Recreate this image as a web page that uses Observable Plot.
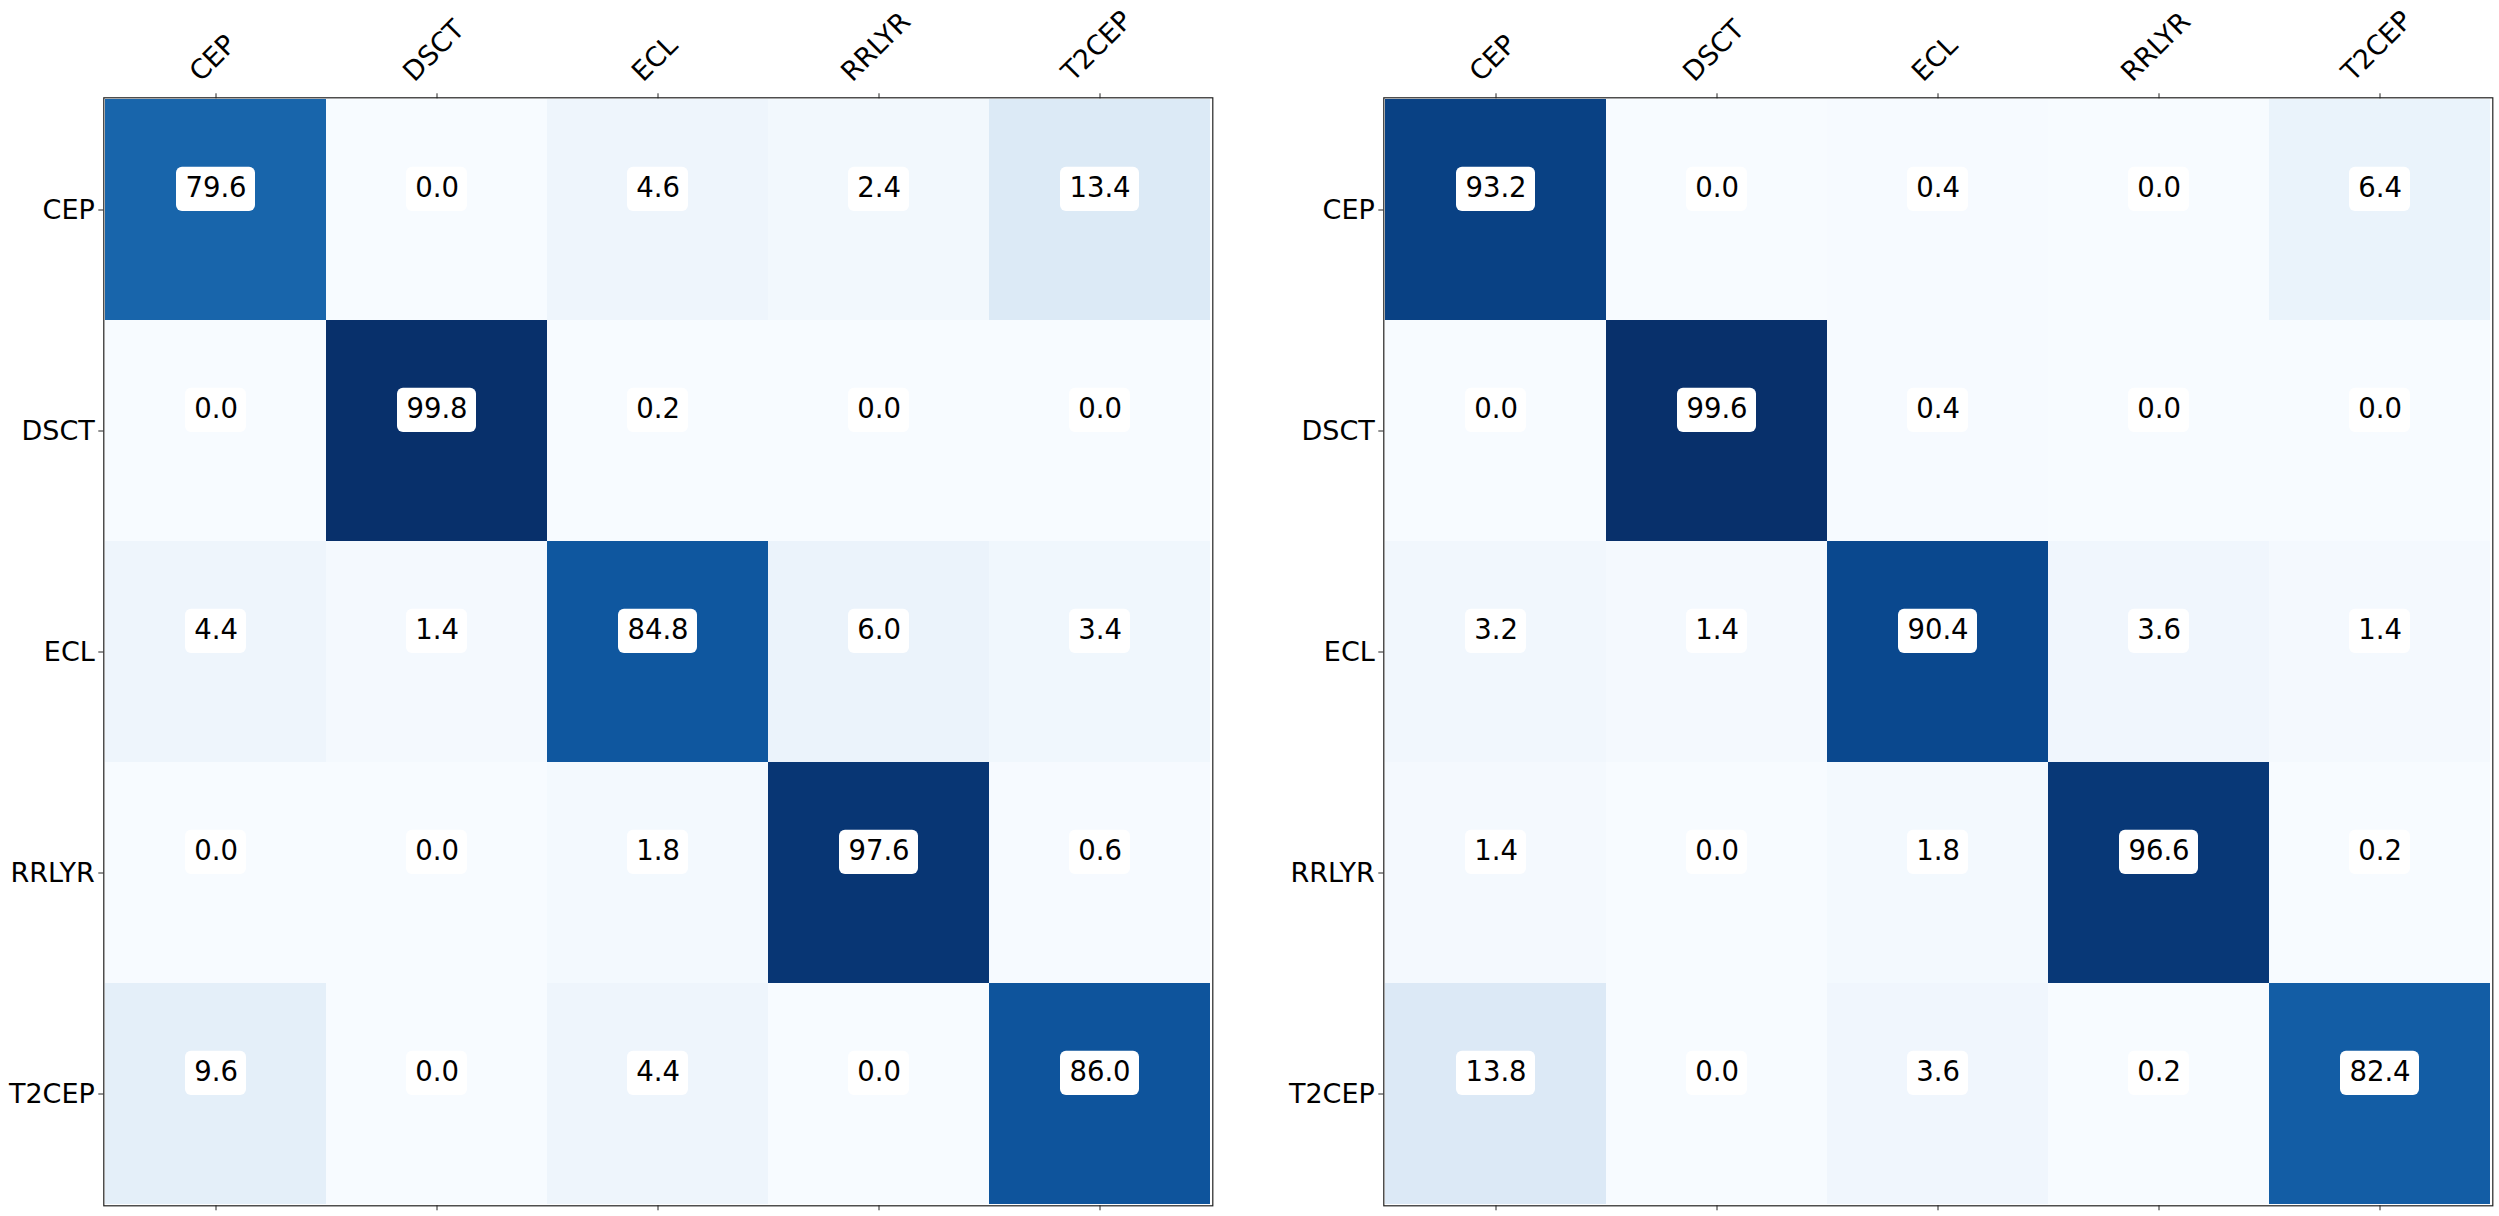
<!DOCTYPE html>
<html><head><meta charset="utf-8">
<script src="https://cdn.jsdelivr.net/npm/d3@7"></script>
<script src="https://cdn.jsdelivr.net/npm/@observablehq/plot@0.6"></script>
<style>
html,body{margin:0;padding:0;background:#fff;overflow:hidden}
#row{display:flex;flex-direction:row;align-items:flex-start}
#row svg{display:block;flex:none;overflow:visible}
#row svg [aria-label="y-axis tick label"] text,
#row svg [aria-label="y-axis tick label"]{font-size:27px !important;font-family:"DejaVu Sans" !important}
</style></head><body><div id="row"></div>
<script>
const classes = ["CEP", "DSCT", "ECL", "RRLYR", "T2CEP"];

// Left confusion matrix (rows = actual, columns = predicted), percent
const leftMatrix = [
  [79.6, 0.0, 4.6, 2.4, 13.4],
  [0.0, 99.8, 0.2, 0.0, 0.0],
  [4.4, 1.4, 84.8, 6.0, 3.4],
  [0.0, 0.0, 1.8, 97.6, 0.6],
  [9.6, 0.0, 4.4, 0.0, 86.0]
];

// Right confusion matrix
const rightMatrix = [
  [93.2, 0.0, 0.4, 0.0, 6.4],
  [0.0, 99.6, 0.4, 0.0, 0.0],
  [3.2, 1.4, 90.4, 3.6, 1.4],
  [1.4, 0.0, 1.8, 96.6, 0.2],
  [13.8, 0.0, 3.6, 0.2, 82.4]
];

const ctx = document.createElement("canvas").getContext("2d");
ctx.font = "27px 'DejaVu Sans'";
const lineH = 27 * 1.164;

// rotated (45°) tick labels, horizontally centred on the tick, bbox bottom above the tick
function topLabel(c) {
  const L = ctx.measureText(c).width;
  return Plot.text([c], {
    x: d => d, frameAnchor: "top", rotate: -45, textAnchor: "middle", lineAnchor: "middle",
    fontSize: 27, fill: "black", dx: -3, dy: -(10 + (L + lineH) / (2 * Math.SQRT2))
  });
}

function panel(matrix, {width, marginLeft, marginRight}) {
  const data = [];
  matrix.forEach((row, i) => row.forEach((v, j) => data.push({
    actual: classes[i], predicted: classes[j], value: v, label: v.toFixed(1)
  })));
  const vmin = d3.min(data, d => d.value), vmax = d3.max(data, d => d.value);
  const short = data.filter(d => d.label.length <= 3);
  const long = data.filter(d => d.label.length > 3);
  const boxV = {insetTop: 67.7, insetBottom: 108.9, rx: 6, fill: "white"};
  return Plot.plot({
    width, height: 1216,
    marginTop: 97.3, marginBottom: 10.7, marginLeft, marginRight,
    style: {fontFamily: "DejaVu Sans", fontSize: "27px", color: "#000", background: "#fff", overflow: "visible"},
    x: {type: "band", domain: classes, padding: 0, label: null},
    y: {type: "band", domain: classes, padding: 0, label: null},
    color: {type: "linear", scheme: "blues", domain: [vmin, vmax]},
    marks: [
      Plot.cell(data, {x: "predicted", y: "actual", fill: "value"}),
      Plot.cell(short, {x: "predicted", y: "actual", insetLeft: 80, insetRight: 80, ...boxV}),
      Plot.cell(long, {x: "predicted", y: "actual", insetLeft: 71, insetRight: 71, ...boxV}),
      Plot.text(data, {x: "predicted", y: "actual", text: "label", dy: -22, fontSize: 27.5, fill: "black"}),
      Plot.frame({stroke: "#222", strokeWidth: 1.2}),
      Plot.axisX({anchor: "top", tickSize: 5, tickFormat: () => "", label: null, stroke: "#222"}),
      ...classes.map(topLabel),
      Plot.axisX({anchor: "bottom", tickSize: 5, tickFormat: () => "", label: null, stroke: "#222"}),
      Plot.axisY({anchor: "left", tickSize: 5, tickPadding: 4, fontSize: 27, label: null, stroke: "#222", fill: "black"})
    ]
  });
}

const row = document.getElementById("row");
row.appendChild(panel(leftMatrix, {width: 1298, marginLeft: 103.3, marginRight: 85.7}));
row.appendChild(panel(rightMatrix, {width: 1201, marginLeft: 85.3, marginRight: 6.7}));
</script>
</body></html>
